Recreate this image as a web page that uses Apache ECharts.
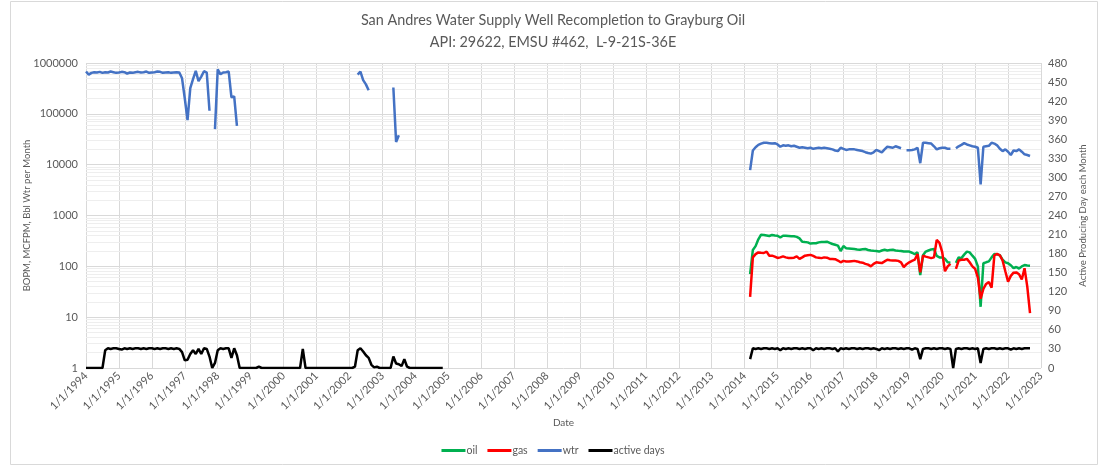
<!DOCTYPE html>
<html>
<head>
<meta charset="utf-8">
<script src="https://cdn.jsdelivr.net/npm/echarts@6.0.0/dist/echarts.min.js"></script>
<style>
html, body { margin: 0; padding: 0; background: #fff; }
#chart { width: 1106px; height: 467px; }
</style>
</head>
<body>
<div id="chart"></div>
<script>
// monthly values, one row per year (Jan..Dec), null = nothing reported
var firstYear = 1994;
var lastYear = 2023;

// water 1994-01 .. 1998-12
var wtrEarly = [
  680000, 590000, 640000, 660000, 650000, 670000, 640000, 660000, 650000, 680000, 660000, 640000,
  650000, 670000, 660000, 620000, 650000, 640000, 660000, 670000, 650000, 660000, 680000, 640000,
  650000, 660000, 680000, 670000, 640000, 650000, 660000, 640000, 650000, 660000, 650000, 500000,
  200000, 75000, 320000, 480000, 700000, 440000, 540000, 690000, 650000, 115000, null, 50000,
  750000, 600000, 650000, 660000, 680000, 210000, 220000, 58000, null, null, null, null
];
// water 2002-04 .. 2002-08
var wtr2002 = [590000, 680000, 460000, 380000, 290000];
// water 2003-05 .. 2003-07
var wtr2003 = [330000, 28000, 38000];

// active days 1994-01 .. 2004-12
var daysEarly = [
  0, 0, 0, 0, 0, 0, 0, 28, 31, 30, 31, 31,
  30, 29, 31, 30, 31, 30, 31, 31, 30, 31, 30, 31,
  31, 30, 31, 30, 31, 31, 30, 31, 30, 31, 30, 25,
  12, 13, 22, 28, 22, 30, 22, 31, 30, 18, 0, 8,
  28, 31, 30, 31, 31, 16, 31, 20, 0, 0, 0, 0,
  0, 0, 0, 2, 0, 0, 0, 0, 0, 0, 0, 0,
  0, 0, 0, 0, 0, 0, 0, 30, 0, 0, 0, 0,
  0, 0, 0, 0, 0, 0, 0, 0, 0, 0, 0, 0,
  0, 0, 2, 28, 31, 26, 20, 16, 5, 1, 2, 0,
  0, 0, 0, 0, 18, 7, 6, 3, 14, 2, 0, 0,
  0, 0, 0, 0, 0, 0, 0, 0, 0, 0, 0, null
];

// 2014-01 .. 2022-12
var oilLate = [
  null, null, 70, 210, 250, 340, 420, 415, 405, 395, 415, 405,
  400, 370, 400, 400, 395, 390, 390, 380, 355, 305, 300, 296,
  280, 285, 285, 296, 300, 300, 305, 290, 275, 265, 255, 200,
  250, 228, 225, 222, 219, 215, 212, 216, 219, 210, 205, 202,
  200, 195, 205, 212, 205, 210, 212, 205, 202, 200, 195, 195,
  195, 185, 174, 188, 67, 165, 195, 205, 215, 219, 160, 150,
  150, 140, 120, 118, null, 117, 150, 145, 170, 195, 188, 162,
  140, 100, 16, 115, 120, 125, 150, 175, 172, 165, 135, 120,
  115, 105, 92, 97, 90, 100, 106, 104, 103, null, null, null
];
var gasLate = [
  null, null, 25, 150, 174, 188, 185, 183, 195, 162, 162, 155,
  146, 150, 157, 150, 146, 146, 148, 157, 140, 150, 162, 165,
  168, 160, 150, 148, 145, 150, 148, 140, 140, 138, 130, 120,
  128, 125, 124, 126, 128, 125, 120, 118, 112, 108, 100, 112,
  120, 118, 116, 125, 135, 132, 130, 130, 128, 120, 97, 110,
  120, 128, 135, 174, 76, 162, 155, 150, 145, 150, 330, 290,
  190, 80, 100, 112, null, 89, 130, 135, 135, 140, 120, 100,
  89, 60, 23, 36, 45, 49, 38, 165, 175, 165, 130, 80,
  50, 65, 75, 76, 70, 55, 92, 40, 12, null, null, null
];
var wtrLate = [
  null, null, 7800, 19000, 22000, 24500, 26000, 27000, 27000, 26500, 26000, 26500,
  25000, 22500, 24000, 23500, 24000, 23000, 23500, 22500, 21500, 22000, 21500, 21000,
  21500, 20500, 21000, 21500, 21000, 21500, 21000, 20500, 20000, 19000, 18500, 21500,
  20500, 19500, 20000, 20000, 20000, 19500, 19000, 18500, 17600, 17000, 16500, 17500,
  19500, 18500, 17500, 20000, 22500, 22000, 21500, 23000, 22000, 21000, null, 19300,
  19300, 19500, 20000, 21500, 10700, 27000, 27000, 26500, 26000, 23000, 20000, 21000,
  21500, 21500, 20500, 20500, null, 21000, 23000, 24500, 26500, 25000, 24000, 23000,
  22500, 21500, 4100, 22500, 23000, 23500, 27000, 26000, 24000, 20500, 18500, 20000,
  18000, 15500, 19000, 18500, 20000, 18000, 16000, 15500, 14800, null, null, null
];
var daysLate = [
  null, null, 14, 31, 30, 31, 30, 31, 31, 30, 31, 30,
  31, 28, 31, 30, 31, 30, 31, 31, 30, 31, 30, 31,
  31, 28, 31, 30, 31, 30, 31, 31, 30, 31, 26, 31,
  30, 31, 30, 31, 31, 30, 31, 30, 31, 31, 30, 31,
  30, 28, 31, 30, 31, 30, 31, 31, 30, 31, 30, 31,
  31, 29, 31, 30, 14, 30, 31, 31, 30, 31, 30, 31,
  31, 30, 31, 30, 0, 30, 31, 30, 31, 31, 30, 31,
  30, 31, 8, 30, 31, 30, 31, 31, 30, 31, 30, 31,
  31, 29, 31, 30, 31, 30, 31, 31, 31, null, null, null
];

var nMonths = (lastYear - firstYear) * 12 + 1;

function monthIndex(ym) {
  var p = ym.split('-');
  return (parseInt(p[0], 10) - firstYear) * 12 + parseInt(p[1], 10) - 1;
}

// lay pieces onto one monthly timeline and turn it into [x, y] pairs
function buildSeries(pieces) {
  var months = new Array(nMonths).fill(null);
  pieces.forEach(function (pc) {
    var i0 = monthIndex(pc[0]);
    pc[1].forEach(function (v, j) { months[i0 + j] = v; });
  });
  return months.map(function (v, i) {
    return [firstYear + i / 12, v == null ? '-' : v];
  });
}

var oilData = buildSeries([['2014-01', oilLate]]);
var gasData = buildSeries([['2014-01', gasLate]]);
var wtrData = buildSeries([['1994-01', wtrEarly], ['2002-04', wtr2002], ['2003-05', wtr2003], ['2014-01', wtrLate]]);
var daysData = buildSeries([['1994-01', daysEarly], ['2014-01', daysLate]]);

// excel style minor gridlines 2..9 inside each decade
var minorLines = [];
for (var d = 1; d < 1000000; d *= 10) {
  for (var k = 2; k <= 9; k++) minorLines.push({ yAxis: k * d });
}

var font = 'Lato, "Liberation Sans", sans-serif';
var grey = '#595959';

var myChart = echarts.init(document.getElementById('chart'));

var option = {
  animation: false,
  textStyle: { fontFamily: font },
  title: {
    text: 'San Andres Water Supply Well Recompletion to Grayburg Oil\nAPI: 29622, EMSU #462,  L-9-21S-36E',
    left: 'center',
    top: 4,
    textStyle: { fontFamily: font, fontSize: 14.4, fontWeight: 'normal', color: grey, lineHeight: 22 }
  },
  legend: {
    data: ['oil', 'gas', 'wtr', 'active days'],
    bottom: 6,
    left: 'center',
    icon: 'rect',
    itemWidth: 24,
    itemHeight: 3,
    itemGap: 10,
    textStyle: { fontFamily: font, fontSize: 10.5, color: grey, padding: [0, 0, 0, -4] }
  },
  graphic: [{
    type: 'rect',
    shape: { x: 10.5, y: 1.5, width: 1087, height: 463 },
    style: { fill: 'none', stroke: '#d9d9d9', lineWidth: 1 },
    silent: true
  }],
  grid: { left: 86, right: 65, top: 63, bottom: 99 },
  xAxis: {
    type: 'value',
    min: firstYear,
    max: lastYear,
    interval: 1,
    name: 'Date',
    nameLocation: 'middle',
    nameGap: 50,
    nameMoveOverlap: false,
    nameTextStyle: { fontFamily: font, fontSize: 10, color: grey },
    axisLine: { show: false },
    axisTick: { show: false },
    axisLabel: {
      rotate: 45,
      fontSize: 11,
      color: grey,
      margin: 6,
      formatter: function (v) { return '1/1/' + Math.round(v); }
    },
    splitLine: { show: true, lineStyle: { color: '#d9d9d9', width: 1 } }
  },
  yAxis: [{
    type: 'log',
    logBase: 10,
    min: 1,
    max: 1000000,
    splitNumber: 6,
    name: 'BOPM, MCFPM, Bbl Wtr per Month',
    nameLocation: 'middle',
    nameRotate: 90,
    nameGap: 54,
    nameMoveOverlap: false,
    nameTextStyle: { fontFamily: font, fontSize: 9.5, color: grey },
    axisLine: { show: false },
    axisTick: { show: false },
    axisLabel: {
      fontSize: 11,
      color: grey,
      margin: 8,
      formatter: function (v) { return String(Math.round(v)); }
    },
    splitLine: { show: true, lineStyle: { color: '#d9d9d9', width: 1 } }
  }, {
    type: 'value',
    position: 'right',
    min: 0,
    max: 480,
    interval: 30,
    name: 'Active Producing Day each Month',
    nameLocation: 'middle',
    nameRotate: 90,
    nameGap: 37,
    nameMoveOverlap: false,
    nameTextStyle: { fontFamily: font, fontSize: 9.5, color: grey },
    axisLine: { show: false },
    axisTick: { show: false },
    axisLabel: { fontSize: 11, color: grey, margin: 7 },
    splitLine: { show: false }
  }],
  series: [{
    name: 'minor',
    type: 'line',
    yAxisIndex: 0,
    data: [],
    z: 1,
    silent: true,
    markLine: {
      z: 1,
      silent: true,
      symbol: ['none', 'none'],
      label: { show: false },
      lineStyle: { color: '#eeeeee', width: 1, type: 'solid' },
      emphasis: { disabled: true },
      data: minorLines
    }
  }, {
    name: 'oil',
    type: 'line',
    yAxisIndex: 0,
    data: oilData,
    showSymbol: false,
    z: 10,
    lineStyle: { color: '#00B050', width: 2.5 },
    itemStyle: { color: '#00B050' }
  }, {
    name: 'gas',
    type: 'line',
    yAxisIndex: 0,
    data: gasData,
    showSymbol: false,
    z: 10,
    lineStyle: { color: '#FF0000', width: 2.5 },
    itemStyle: { color: '#FF0000' }
  }, {
    name: 'wtr',
    type: 'line',
    yAxisIndex: 0,
    data: wtrData,
    showSymbol: false,
    z: 10,
    lineStyle: { color: '#4472C4', width: 2.5 },
    itemStyle: { color: '#4472C4' }
  }, {
    name: 'active days',
    type: 'line',
    yAxisIndex: 1,
    data: daysData,
    showSymbol: false,
    z: 10,
    lineStyle: { color: '#000000', width: 2.5 },
    itemStyle: { color: '#000000' }
  }]
};

myChart.setOption(option);
</script>
</body>
</html>
